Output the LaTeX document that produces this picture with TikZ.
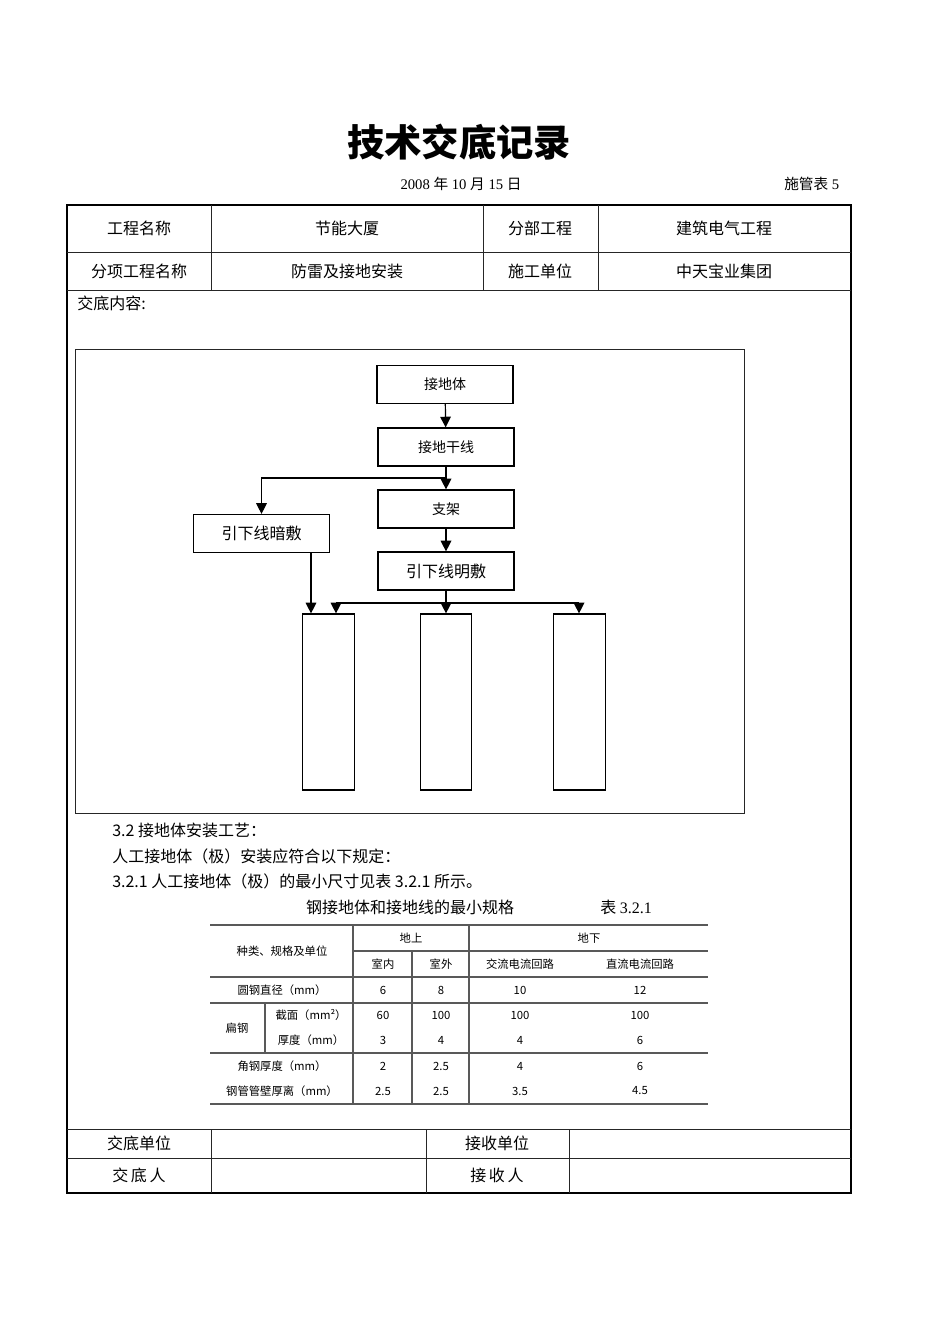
\documentclass[tikz,border=0pt]{standalone}
\usepackage{fontspec}
\setmainfont{Liberation Serif}
\newfontfamily\cjk{Noto Sans CJK SC}
\usetikzlibrary{arrows.meta,positioning}
\tikzset{
  >={Triangle[length=8pt,width=8pt]},
  outer/.style={line width=1.8pt},
  grid/.style={line width=0.6pt, draw=black!85},
  cellt/.style={font=\cjk\fontsize{12}{14}\selectfont, inner sep=0pt},
  flowbox/.style={draw, line width=0.9pt, minimum width=102pt, minimum height=28.5pt,
              inner sep=0pt, font=\cjk\fontsize{10.5}{12}\selectfont},
  colbox/.style={draw, line width=0.9pt, minimum width=38.5pt, minimum height=132pt, inner sep=0pt},
  flow/.style={->, line width=0.9pt},
  tab/.style={font=\cjk\fontsize{8.5}{10}\selectfont, inner sep=0pt},
  tline/.style={draw=black!65, line width=0.8pt},
  body/.style={font=\cjk\fontsize{12}{14}\selectfont, anchor=west, inner sep=0pt},
}

\begin{document}
\begin{tikzpicture}[x=0.75pt,y=-0.75pt]
\useasboundingbox (0,0) rectangle (950,1344);

\node[font=\cjk\bfseries\fontsize{28}{32}\selectfont] (title) at (459,142) {技术交底记录};
\node[font=\fontsize{11}{13}\selectfont] (date) at (461,184) {2008 {\cjk 年} 10 {\cjk 月} 15 {\cjk 日}};
\node[font=\fontsize{11}{13}\selectfont, anchor=east] (form) at (844,184) {{\cjk 施管表} 5};

% main form
\draw[outer] (67,205) rectangle (851,1193);
\draw[grid] (67,252) -- (851,252);
\draw[grid] (67,290) -- (851,290);
\draw[grid] (211,205) -- (211,290);
\draw[grid] (483,205) -- (483,290);
\draw[grid] (598,205) -- (598,290);
\draw[grid] (67,1129) -- (851,1129);
\draw[grid] (67,1158) -- (851,1158);
\draw[grid] (211,1129) -- (211,1193);
\draw[grid] (426,1129) -- (426,1193);
\draw[grid] (569,1129) -- (569,1193);

\node[cellt] (pname) at (139,228.5) {工程名称};
\node[cellt] (pval) at (347,228.5) {节能大厦};
\node[cellt] (dname) at (540,228.5) {分部工程};
\node[cellt] (dval) at (724,228.5) {建筑电气工程};
\node[cellt] (sname) at (139,271) {分项工程名称};
\node[cellt] (sval) at (347,271) {防雷及接地安装};
\node[cellt] (uname) at (540,271) {施工单位};
\node[cellt] (uval) at (724,271) {中天宝业集团};
\node[body] (content) at (77,303) {交底内容:};

\node[cellt] (giver) at (139,1143.5) {交底单位};
\node[cellt] (taker) at (497,1143.5) {接收单位};
\node[cellt] (giverp) at (139,1175.5) {交\,底\,人};
\node[cellt] (takerp) at (497,1175.5) {接\,收\,人};

% flow chart
\draw[grid] (75,349) rectangle (744,813);
\node[flowbox] (body) at (445,384.5) {接地体};
\node[flowbox] (trunk) at (446,447) {接地干线};
\node[flowbox] (frame) at (446,509) {支架};
\node[flowbox, font=\cjk\fontsize{12}{14}\selectfont] (hidden) at (261.5,533.5) {引下线暗敷};
\node[flowbox, font=\cjk\fontsize{12}{14}\selectfont] (open) at (446,571) {引下线明敷};
\node[colbox] (colA) at (328.5,702) {};
\node[colbox] (colB) at (446,702) {};
\node[colbox] (colC) at (579.5,702) {};

\coordinate (split) at (446,478);
\coordinate (bus) at (446,603);
\coordinate (busL) at (336,603);
\coordinate (busR) at (579,603);
\coordinate (drop) at (311,553);
\draw[flow] (body) -- (trunk);
\draw[flow] (trunk) -- (frame);
\draw[flow] (split) -| (hidden.north);
\draw[flow] (frame) -- (open);
\draw[flow] (drop) -- (drop |- colA.north);
\draw[line width=0.9pt] (open) -- (bus);
\draw[line width=0.9pt] (busL) -- (busR);
\draw[flow] (busL) -- (busL |- colA.north);
\draw[flow] (bus) -- (colB);
\draw[flow] (busR) -- (busR |- colC.north);

% text
\node[body] (step) at (112,830) {3.2 接地体安装工艺：};
\node[body] (rule) at (112,856) {人工接地体（极）安装应符合以下规定：};
\node[body] (size) at (112,881) {3.2.1 人工接地体（极）的最小尺寸见表 3.2.1 所示。};
\node[cellt] (cap) at (410,907) {钢接地体和接地线的最小规格};
\node[cellt, anchor=west] (capno) at (600,907) {表 {\rmfamily 3.2.1}};

% spec table
\draw[tline] (210,925) -- (708,925);
\draw[tline] (353,951) -- (708,951);
\draw[tline] (210,977) -- (708,977);
\draw[tline] (210,1003) -- (708,1003);
\draw[tline] (210,1053) -- (708,1053);
\draw[tline] (210,1104) -- (708,1104);
\draw[tline] (353,925) -- (353,1104);
\draw[tline] (412,951) -- (412,1104);
\draw[tline, line width=1.2pt] (469,925) -- (469,1104);
\draw[tline] (265,1003) -- (265,1053);

\node[tab] (kind) at (282,951) {种类、规格及单位};
\node[tab] (above) at (411,938) {地上};
\node[tab] (below) at (589,938) {地下};
\node[tab] (inr) at (383,964) {室内};
\node[tab] (outr) at (441,964) {室外};
\node[tab] (ac) at (520,964) {交流电流回路};
\node[tab] (dc) at (640,964) {直流电流回路};

\node[tab] (rd) at (282,990) {圆钢直径（mm）};
\node[tab] at (383,990) {6};
\node[tab] at (441,990) {8};
\node[tab] at (520,990) {10};
\node[tab] at (640,990) {12};

\node[tab] (flat) at (237,1028) {扁钢};
\node[tab] (sect) at (311,1015) {截面（mm²）};
\node[tab] at (383,1015) {60};
\node[tab] at (441,1015) {100};
\node[tab] at (520,1015) {100};
\node[tab] at (640,1015) {100};
\node[tab] (thk) at (311,1040) {厚度（mm）};
\node[tab] at (383,1040) {3};
\node[tab] at (441,1040) {4};
\node[tab] at (520,1040) {4};
\node[tab] at (640,1040) {6};

\node[tab] (ang) at (282,1066) {角钢厚度（mm）};
\node[tab] at (383,1066) {2};
\node[tab] at (441,1066) {2.5};
\node[tab] at (520,1066) {4};
\node[tab] at (640,1066) {6};
\node[tab] (pipe) at (282,1091) {钢管管壁厚离（mm）};
\node[tab] at (383,1091) {2.5};
\node[tab] at (441,1091) {2.5};
\node[tab] at (520,1091) {3.5};
\node[tab] at (640,1091) {4.5};
\end{tikzpicture}
\end{document}
